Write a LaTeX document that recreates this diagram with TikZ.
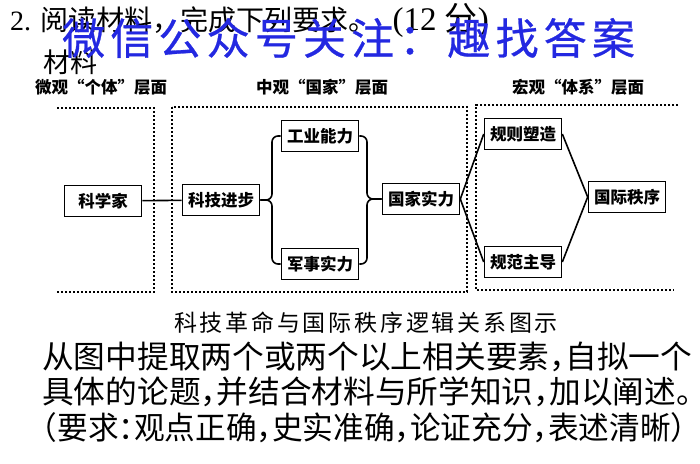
\documentclass[tikz,border=0pt]{standalone}
\usepackage{graphicx}
\usepackage{fontspec}
\setmainfont{Liberation Serif}
\newfontfamily\cjk{Noto Sans CJK SC}
\newfontfamily\cjkh[RawFeature=+halt]{Noto Sans CJK SC}
\newfontfamily\cjkw[LetterSpace=12,FakeBold=0.6]{Noto Sans CJK SC}
\newfontfamily\cjkc[LetterSpace=12]{Noto Sans CJK SC}
\definecolor{wmblue}{RGB}{35,40,225}
\tikzset{
  box/.style={draw, line width=1.6pt, minimum width=77pt, minimum height=31pt, inner sep=0pt,
    font=\fontsize{16.5}{18}\cjk\bfseries},
  link/.style={line width=1.6pt},
  brace/.style={line width=1.6pt, rounded corners=6pt},
  dotbox/.style={line width=2.2pt, dash pattern=on 2.2pt off 1.8pt},
  head/.style={inner sep=0pt, font=\fontsize{16.5}{18}\cjk\bfseries},
  bodyline/.style={anchor=west, inner sep=0pt, font=\fontsize{31.5}{34}\cjkh}
}
\begin{document}
\begin{tikzpicture}[x=1pt,y=-1pt]
\useasboundingbox[fill=white] (0,0) rectangle (700,463);
% title
\node[anchor=west, inner sep=0pt] (title) at (10,20)
  {\fontsize{28}{30}\selectfont 2. {\cjk 阅读材料，完成下列要求。}\hspace{16pt}{\fontsize{33}{35}\selectfont (12 {\cjk 分})}};
\node[anchor=west, inner sep=0pt] (cl) at (43,62) {\fontsize{27}{30}\cjk 材料};
% watermark
\node[anchor=west, inner sep=0pt, text=wmblue] (wm) at (62,38)
  {\fontsize{43}{46}\cjkw 微信公众号关注：趣找答案};
% headers
\node[head] (h1) at (101,87) {微观“个体”层面};
\node[head] (h2) at (322,87) {中观“国家”层面};
\node[head] (h3) at (578,87) {宏观“体系”层面};
% dotted frames
\draw[dotbox] (57,108) -- (154,108) -- (154,292) -- (57,292);
\draw[dotbox] (172,107) rectangle (467,292);
\draw[dotbox] (678,105) -- (476,105) -- (476,290) -- (674,290);
% nodes
\node[box] (kxj)  at (103,201) {科学家};
\node[box] (kjjb) at (221,200) {科技进步};
\node[box] (gynl) at (320,136) {工业能力};
\node[box] (jssl) at (320,264) {军事实力};
\node[box] (gjsl) at (421,199) {国家实力};
\node[box] (gzsz) at (523,134) {规则塑造};
\node[box] (gfzd) at (523,262) {规范主导};
\node[box] (gjzx) at (627,197) {国际秩序};
\coordinate (bl) at (272,200);
\coordinate (br) at (367,199);
% connectors
\draw[link] (kxj) -- (kjjb);
\draw[brace] (gynl.west) -| (bl) -- (kjjb.east);
\draw[brace] (jssl.west) -| (bl) -- (kjjb.east);
\draw[brace] (gynl.east) -| (br) -- (gjsl.west);
\draw[brace] (jssl.east) -| (br) -- (gjsl.west);
\draw[link] (gjsl.east) -- (gzsz.west);
\draw[link] (gjsl.east) -- (gfzd.west);
\draw[link] (gzsz.east) -- (gjzx.west);
\draw[link] (gfzd.east) -- (gjzx.west);
% caption and body
\node[inner sep=0pt] (cap) at (366,323) {\fontsize{23}{25}\cjkc 科技革命与国际秩序逻辑关系图示};
\node[bodyline] (b1) at (42,357) {\resizebox{650pt}{\height}{从图中提取两个或两个以上相关要素，自拟一个}};
\node[bodyline] (b2) at (42,392) {\resizebox{650pt}{\height}{具体的论题，并结合材料与所学知识，加以阐述。}};
\node[bodyline] (b3) at (42,428) {\resizebox{644pt}{\height}{（要求：观点正确，史实准确，论证充分，表述清晰）}};
\end{tikzpicture}
\end{document}
